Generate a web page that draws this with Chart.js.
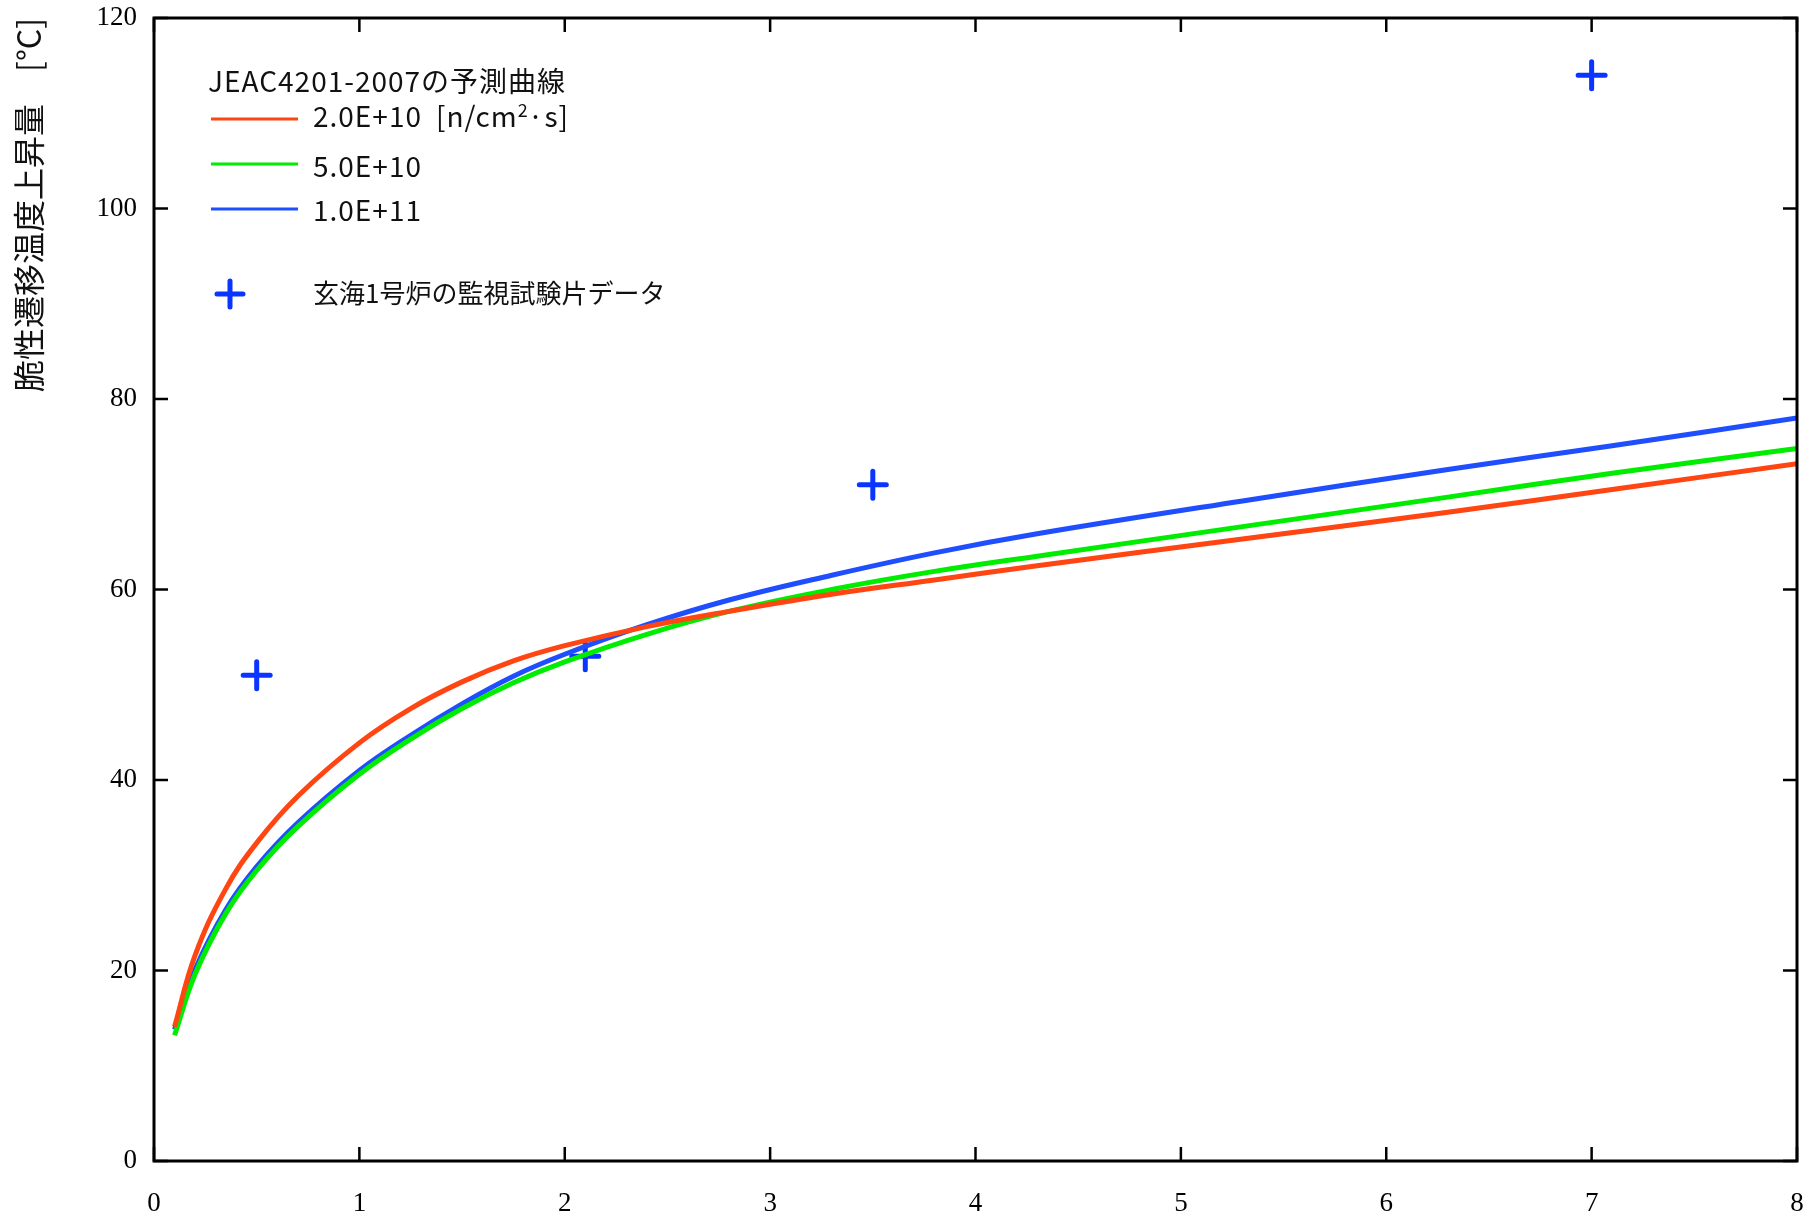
<!DOCTYPE html>
<html>
<head>
<meta charset="utf-8">
<title>脆性遷移温度上昇量</title>
<script src="https://cdn.jsdelivr.net/npm/chart.js@4.4.1/dist/chart.umd.min.js"></script>
<style>
    body { margin: 0; background: #fff; }
    canvas { display: block; }
</style>
</head>
<body>
<canvas id="chart" width="1812" height="1223"></canvas>
<script>
// x positions where the prediction curves were read
const fluence = [0.1, 0.2, 0.35, 0.5, 0.7, 1.0, 1.25, 1.5, 1.75, 2.0, 2.4, 2.8, 3.3, 3.8, 4.3, 5.3, 6.3, 7.1, 8.0];

// JEAC4201-2007 predicted shift [°C] for each flux
const shift2e10 = [14.1, 21.6, 28.6, 33.4, 38.3, 43.9, 47.5, 50.3, 52.5, 54.1, 56.1, 57.7, 59.5, 61.0, 62.5, 65.3, 68.1, 70.5, 73.2];
const shift5e10 = [13.2, 19.6, 26.0, 30.5, 35.1, 40.6, 44.3, 47.5, 50.2, 52.4, 55.3, 57.7, 60.0, 61.9, 63.5, 66.6, 69.7, 72.2, 74.8];
const shift1e11 = [13.8, 20.1, 26.4, 30.9, 35.5, 41.0, 44.7, 48.0, 50.9, 53.2, 56.3, 58.9, 61.5, 63.85, 65.85, 69.3, 72.6, 75.1, 78.0];

// Genkai unit 1 surveillance specimens
const specimenX = [0.5, 2.1, 3.5, 7.0];
const specimenY = [51, 53, 71, 114];

const curveLabels = ['2.0E+10', '5.0E+10', '1.0E+11'];
const curveColors = ['#ff4512', '#00ec00', '#1f4eff'];
const legendTitle = 'JEAC4201-2007の予測曲線';
const fluxUnit = ['[n/cm', '2', '·s]'];
const specimenLabel = '玄海1号炉の監視試験片データ';
const yTitle = '脆性遷移温度上昇量　[°C]';

const xMin = 0, xMax = 8, xStep = 1;
const yMin = 0, yMax = 120, yStep = 20;

const SANS = '"Noto Sans CJK JP", "Noto Sans", sans-serif';
const SERIF = '"Liberation Serif", "DejaVu Serif", serif';

function toPoints(xs, ys) {
    return xs.map((x, i) => ({ x: x, y: ys[i] }));
}

const curves = [shift2e10, shift5e10, shift1e11].map((vals, i) => ({
    type: 'line',
    label: curveLabels[i],
    data: toPoints(fluence, vals),
    borderColor: curveColors[i],
    backgroundColor: curveColors[i],
    borderWidth: 5,
    pointRadius: 0,
    fill: false,
    tension: 0.4
}));

const specimens = {
    type: 'scatter',
    label: specimenLabel,
    data: toPoints(specimenX, specimenY),
    pointStyle: 'cross',
    pointRadius: 13.5,
    pointHoverRadius: 13.5,
    borderColor: '#0a34ff',
    backgroundColor: '#0a34ff',
    pointBorderWidth: 5
};

// round ends on the cross markers
const roundCaps = {
    id: 'roundCaps',
    beforeDatasetDraw(chart, args) {
        if (args.meta.type === 'scatter') chart.ctx.lineCap = 'round';
    },
    afterDatasetDraw(chart, args) {
        if (args.meta.type === 'scatter') chart.ctx.lineCap = 'butt';
    }
};

// box around the plot with inward ticks on all four sides
const frameTicks = {
    id: 'frameTicks',
    afterDatasetsDraw(chart) {
        const { ctx, chartArea: a, scales } = chart;
        const len = 14;
        ctx.save();
        ctx.strokeStyle = '#000';
        ctx.lineWidth = 2.5;
        ctx.beginPath();
        scales.x.ticks.forEach(t => {
            const px = scales.x.getPixelForValue(t.value);
            ctx.moveTo(px, a.bottom);
            ctx.lineTo(px, a.bottom - len);
            ctx.moveTo(px, a.top);
            ctx.lineTo(px, a.top + len);
        });
        scales.y.ticks.forEach(t => {
            const py = scales.y.getPixelForValue(t.value);
            ctx.moveTo(a.left, py);
            ctx.lineTo(a.left + len, py);
            ctx.moveTo(a.right, py);
            ctx.lineTo(a.right - len, py);
        });
        ctx.stroke();
        ctx.lineWidth = 3;
        ctx.strokeRect(a.left, a.top, a.right - a.left, a.bottom - a.top);
        ctx.restore();
    }
};

// legend laid out like the original figure
const legendBox = {
    id: 'legendBox',
    afterDraw(chart) {
        const ctx = chart.ctx;
        const ds = chart.data.datasets;
        const font = '28px ' + SANS;
        ctx.save();
        ctx.fillStyle = '#111';
        ctx.font = font;
        ctx.letterSpacing = '1px';
        ctx.textBaseline = 'alphabetic';
        ctx.textAlign = 'left';
        ctx.fillText(legendTitle, 208, 92);

        const rows = [119, 164, 209];
        const baselines = [127, 177, 221];
        for (let i = 0; i < 3; i++) {
            ctx.strokeStyle = ds[i].borderColor;
            ctx.lineWidth = 3;
            ctx.beginPath();
            ctx.moveTo(211, rows[i]);
            ctx.lineTo(298, rows[i]);
            ctx.stroke();
            ctx.fillStyle = '#111';
            ctx.fillText(ds[i].label, 313, baselines[i]);
        }

        // flux unit after the first label, with superscript 2
        let ux = 313 + ctx.measureText(curveLabels[0]).width + 14;
        ctx.fillText(fluxUnit[0], ux, baselines[0]);
        ux += ctx.measureText(fluxUnit[0]).width;
        ctx.font = '18px ' + SANS;
        ctx.fillText(fluxUnit[1], ux, baselines[0] - 10);
        ux += ctx.measureText(fluxUnit[1]).width;
        ctx.font = font;
        ctx.fillText(fluxUnit[2], ux - 1, baselines[0]);

        const sp = ds[3];
        ctx.strokeStyle = sp.borderColor;
        ctx.fillStyle = sp.backgroundColor;
        ctx.lineWidth = 5;
        ctx.lineCap = 'round';
        Chart.helpers.drawPoint(ctx, {
            pointStyle: 'cross',
            radius: 13,
            borderWidth: 5,
            rotation: 0
        }, 230, 294);
        ctx.fillStyle = '#111';
        ctx.letterSpacing = '0px';
        ctx.font = '26px ' + SANS;
        ctx.fillText(sp.label, 313, 303);
        ctx.restore();
    }
};

new Chart(document.getElementById('chart'), {
    data: { datasets: curves.concat([specimens]) },
    options: {
        responsive: false,
        devicePixelRatio: 1,
        animation: false,
        layout: {
            autoPadding: false,
            padding: { top: 18, right: 15, left: 0, bottom: 0 }
        },
        plugins: {
            legend: { display: false },
            tooltip: { enabled: false }
        },
        scales: {
            x: {
                type: 'linear',
                min: xMin,
                max: xMax,
                border: { display: false },
                grid: { display: false, drawTicks: false },
                ticks: {
                    stepSize: xStep,
                    padding: 27,
                    color: '#000',
                    maxRotation: 0,
                    font: { family: SERIF, size: 27 }
                },
                afterFit(scale) {
                    scale.height = 62;
                    scale.paddingLeft = 0;
                    scale.paddingRight = 0;
                }
            },
            y: {
                type: 'linear',
                min: yMin,
                max: yMax,
                border: { display: false },
                grid: { display: false, drawTicks: false },
                ticks: {
                    stepSize: yStep,
                    padding: 17,
                    color: '#000',
                    font: { family: SERIF, size: 27 }
                },
                title: {
                    display: true,
                    text: yTitle,
                    align: 'end',
                    color: '#111',
                    padding: { top: 10, bottom: 0 },
                    font: { family: SANS, size: 32 }
                },
                afterFit(scale) {
                    scale.width = 154;
                    scale.paddingTop = 0;
                    scale.paddingBottom = 0;
                }
            }
        }
    },
    plugins: [roundCaps, frameTicks, legendBox]
});
</script>
</body>
</html>
